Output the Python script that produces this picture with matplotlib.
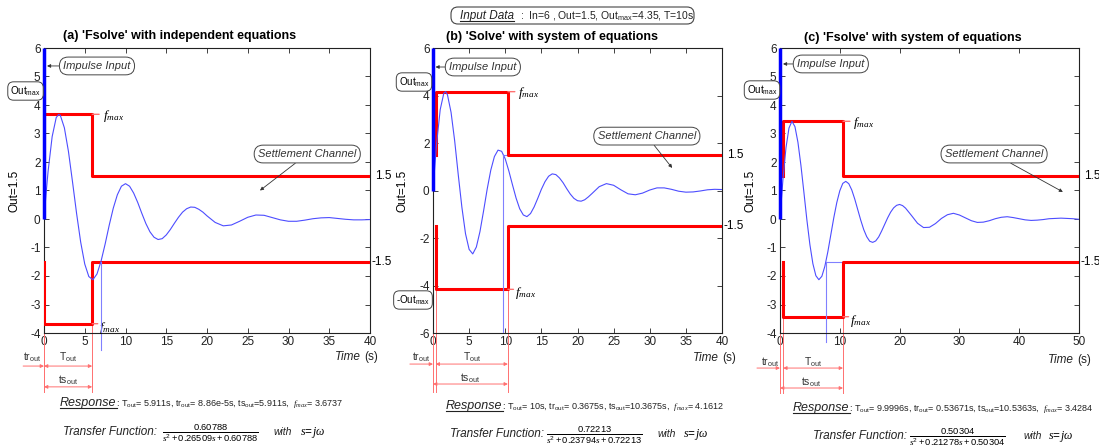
import matplotlib
matplotlib.use("Agg")
import matplotlib.pyplot as plt
import matplotlib.transforms as mtrans
from matplotlib.patches import FancyBboxPatch
from matplotlib.lines import Line2D
import numpy as np

plt.rcParams['font.family'] = ['Liberation Sans', 'DejaVu Sans']
plt.rcParams['mathtext.fontset'] = 'custom'
plt.rcParams['mathtext.rm'] = 'Liberation Sans'
plt.rcParams['mathtext.it'] = 'Liberation Serif:italic'
plt.rcParams['mathtext.bf'] = 'Liberation Sans:bold'
plt.rcParams['axes.unicode_minus'] = False

# ---------------- data ----------------
input_in = 6
input_out = 1.5
input_outmax = 4.35
input_T = 10

titles = ["(a) 'Fsolve' with independent equations",
          "(b) 'Solve' with system of equations",
          "(c) 'Fsolve' with system of equations"]
T_out = [5.911, 10, 9.9996]
tr_out = [8.86e-5, 0.3675, 0.53671]
ts_out = [5.911, 10.3675, 10.5363]
f_max = [3.6737, 4.1612, 3.4284]
tf_num = [0.60788, 0.72213, 0.50304]
tf_b1 = [0.26509, 0.23794, 0.21278]
settle_t = [6.95, 9.73, 7.7]
settle_sign = [-1, 1, -1]
t_end = [40, 40, 50]
y_low = [-4, -6, -4]
y_high = [6, 6, 6]
x_step = [5, 5, 10]
y_step = [1, 2, 1]

t_a = [0, 0.25, 0.5, 1.0, 1.5, 1.8, 2.0, 2.5, 3.0, 3.5, 4.0, 4.5, 5.0, 5.5, 6.0, 6.5, 7.0,
       7.5, 8.0, 8.5, 9.0, 9.5, 10.0, 10.5, 11.0, 11.5, 12.0, 12.5, 13.0, 13.5, 14.0, 14.5,
       15.0, 15.5, 16.0, 16.5, 17.0, 17.5, 18.0, 18.5, 19.0, 19.5, 20.0, 21, 22, 23, 24, 25,
       26, 27, 28, 29, 30, 31, 32, 33, 34, 35, 36, 37, 38, 39, 40]
y_a = [0, 0.88, 1.67, 2.89, 3.56, 3.67, 3.64, 3.20, 2.37, 1.30, 0.19, -0.81, -1.58, -2.02,
       -2.13, -1.93, -1.48, -0.88, -0.22, 0.38, 0.85, 1.15, 1.24, 1.15, 0.91, 0.58, 0.20,
       -0.16, -0.45, -0.64, -0.72, -0.69, -0.56, -0.37, -0.15, 0.06, 0.24, 0.36, 0.42, 0.41,
       0.34, 0.24, 0.11, -0.12, -0.24, -0.21, -0.08, 0.06, 0.14, 0.13, 0.05, -0.03, -0.08,
       -0.08, -0.04, 0.01, 0.04, 0.05, 0.02, -0.01, -0.03, -0.03, -0.02]

t_b = [0, 0.25, 0.5, 1.0, 1.5, 1.75, 2.0, 2.5, 3.0, 3.5, 4.0, 4.5, 5.0, 5.5, 6.0, 6.5, 7.0,
       7.5, 8.0, 8.5, 9.0, 9.5, 10.0, 10.5, 11.0, 11.5, 12.0, 12.5, 13.0, 13.5, 14.0, 14.5,
       15.0, 15.5, 16.0, 16.5, 17.0, 17.5, 18.0, 18.5, 19.0, 19.5, 20.0, 20.5, 21.0, 21.5,
       22.0, 23, 24, 25, 26, 27, 28, 29, 30, 31, 32, 33, 34, 35, 36, 37, 38, 39, 40]
y_b = [0, 1.04, 1.98, 3.41, 4.10, 4.16, 4.03, 3.29, 2.09, 0.65, -0.71, -1.82, -2.48, -2.67,
       -2.38, -1.73, -0.86, 0.06, 0.86, 1.43, 1.70, 1.65, 1.33, 0.82, 0.24, -0.32, -0.77,
       -1.03, -1.10, -0.97, -0.69, -0.33, 0.05, 0.37, 0.60, 0.70, 0.67, 0.53, 0.33, 0.08,
       -0.15, -0.33, -0.43, -0.45, -0.39, -0.27, -0.13, 0.16, 0.29, 0.22, 0.03, -0.14, -0.18,
       -0.11, 0.02, 0.11, 0.11, 0.05, -0.03, -0.07, -0.06, -0.02, 0.03, 0.05, 0.04]

t_c = [0, 0.25, 0.5, 1.0, 1.5, 2.0, 2.5, 3.0, 3.5, 4.0, 4.5, 5.0, 5.5, 6.0, 6.5, 7.0, 7.5,
       8.0, 8.5, 9.0, 9.5, 10.0, 10.5, 11.0, 11.5, 12.0, 12.5, 13.0, 13.5, 14.0, 14.5, 15.0,
       15.5, 16.0, 16.5, 17.0, 17.5, 18.0, 18.5, 19.0, 19.5, 20.0, 20.5, 21.0, 22, 23, 24,
       25, 26, 27, 28, 29, 30, 31, 32, 33, 34, 35, 36, 37, 38, 39, 40, 41, 42, 43, 44, 45,
       46, 47, 48, 49, 50]
y_c = [0, 0.73, 1.40, 2.50, 3.19, 3.43, 3.24, 2.69, 1.88, 0.93, -0.04, -0.90, -1.57, -1.99,
       -2.13, -2.01, -1.66, -1.15, -0.55, 0.05, 0.58, 0.99, 1.25, 1.32, 1.24, 1.02, 0.70,
       0.33, -0.04, -0.37, -0.62, -0.78, -0.82, -0.77, -0.63, -0.42, -0.19, 0.04, 0.24, 0.39,
       0.48, 0.51, 0.47, 0.38, 0.12, -0.15, -0.30, -0.29, -0.16, 0.02, 0.15, 0.20, 0.14, 0.04,
       -0.06, -0.12, -0.11, -0.06, 0.01, 0.06, 0.08, 0.05, 0.01, -0.03, -0.05, -0.04, -0.02,
       0.01, 0.02, 0.03, 0.02, 0.01, -0.01]

series = [(t_a, y_a), (t_b, y_b), (t_c, y_c)]

# ---------------- layout (pixels) ----------------
W, H = 1099, 448
ax_px = [(44, 48, 370, 333), (433, 48, 722, 333), (780, 48, 1079, 333)]
title_px = [(180, 36), (552, 37), (913, 38)]
ylabel_px_x = [21, 409, 757]
time_px = [(335, 357), (693, 358), (1048, 360)]
resp_px = [(60, 406), (446, 409), (793, 411)]
resp_detail_x = [116, 502, 849]
tf_px = [(63, 432), (450, 434), (813, 436)]
frac_cx = [210, 594, 957]
with_px = [273, 657, 1023]
sjw_px = [300, 683, 1048]
outmax_px = [[(25.5, 91, '')], [(414, 82, ''), (413, 300, '-')], [(762, 90, '')]]
impulse_box = [(6.5, 5.37, 0.37), (6.9, 5.2, 0.35), (8.5, 5.44, 0.5)]
settle_box = [((32.3, 2.28), (26.5, 1.0)), ((29.6, 2.29), (33.1, 0.95)),
              ((35.8, 2.28), (47.3, 0.95))]
dim_y = [(-0.084, -0.116, -0.165, -0.189), (-0.084, -0.109, -0.158, -0.179),
         (-0.102, -0.123, -0.172, -0.193)]
tr_label_x = [-0.037, -0.042, -0.033]
tr_arrow_x0 = [-0.064, -0.080, -0.077]
drop_bottom = [-0.207, -0.207, -0.21]
blue_drop = [-0.06, 0.0, -0.03]

RED = '#ff0000'
PINK = '#ff7070'
BLUE = '#4d4dff'

fig = plt.figure(figsize=(W / 100, H / 100), dpi=100)
ID = mtrans.IdentityTransform()


def ftext(x, y, s, **kw):
    return fig.text(x / W, 1 - y / H, s, **kw)


def gfmt(v):
    return f"{v:g}".replace('e-0', 'e-')


box_kw = dict(boxstyle='round,pad=0.35,rounding_size=0.8', fc='white', ec='#444444', lw=0.7)
resp_texts = []

for i in range(3):
    l, tp, r, b = ax_px[i]
    ax = fig.add_axes([l / W, 1 - b / H, (r - l) / W, (b - tp) / H])
    t, y = series[i]
    tr, ts, fm = tr_out[i], ts_out[i], f_max[i]
    te = t_end[i]
    xtr = ax.get_xaxis_transform()
    ytr = ax.get_yaxis_transform()

    ax.set_xlim(0, te)
    ax.set_ylim(y_low[i], y_high[i])
    ax.set_xticks(np.arange(0, te + 0.1, x_step[i]))
    ax.set_yticks(np.arange(y_low[i], y_high[i] + 0.1, y_step[i]))
    ax.tick_params(direction='in', top=True, right=True, length=3.5, width=0.6,
                   labelsize=8.5, pad=2.5, colors='#222222')
    for sp in ax.spines.values():
        sp.set_linewidth(0.8)
        sp.set_color('#222222')

    # settlement channel
    ax.plot([tr, tr, ts, ts, te], [input_out, fm, fm, input_out, input_out],
            color=RED, lw=2.2, zorder=3)
    ax.plot([tr, tr, ts, ts, te], [-input_out, -fm, -fm, -input_out, -input_out],
            color=RED, lw=2.2, zorder=3)

    # response
    ax.plot(t, y, color=BLUE, lw=0.8, zorder=4)

    # settle marker
    lev = settle_sign[i] * input_out
    ax.plot([settle_t[i], settle_t[i]], [lev, y_low[i]], color='#8080ff', lw=0.8, zorder=4)
    ax.plot([settle_t[i], ts], [lev, lev], color='#8080ff', lw=0.8, zorder=2)
    if blue_drop[i] < 0:
        ax.plot([settle_t[i], settle_t[i]], [0, blue_drop[i]], color='#8080ff', lw=0.8,
                transform=xtr, clip_on=False)

    # impulse input
    ax.plot([0, 0], [0, input_in], color='#0000ff', lw=2.5, zorder=5,
            solid_capstyle='butt', clip_on=False)

    # f_max labels
    ax.annotate('', xy=(ts, fm), xytext=(5, 0), textcoords='offset points',
                arrowprops=dict(arrowstyle='-', color=PINK, lw=1.0, shrinkA=0, shrinkB=0))
    ax.annotate(r'$f_{max}$', xy=(ts, fm), xytext=(7.5, -1), textcoords='offset points',
                ha='left', va='center', fontsize=9.5, annotation_clip=False)
    ax.annotate('', xy=(ts, -fm), xytext=(4, 0), textcoords='offset points',
                arrowprops=dict(arrowstyle='-', color=PINK, lw=1.0, shrinkA=0, shrinkB=0))
    ax.annotate(r'$f_{max}$', xy=(ts, -fm), xytext=(5, -3), textcoords='offset points',
                ha='left', va='center', fontsize=9.5, annotation_clip=False)

    # right-side labels
    ax.text(1.017, input_out, gfmt(input_out), transform=ytr, ha='left', va='center',
            fontsize=8.5)
    ax.text(1.005, -input_out, gfmt(-input_out), transform=ytr, ha='left', va='center',
            fontsize=8.5)

    # annotation boxes
    bx, by, bt = impulse_box[i]
    ax.annotate('Impulse Input', xy=(bt, by), xytext=(bx, by), ha='center', va='center',
                fontsize=8, fontstyle='italic', color='#333333', bbox=box_kw,
                arrowprops=dict(arrowstyle='-|>', color='#333333', lw=0.6,
                                mutation_scale=5, shrinkA=0, shrinkB=0), zorder=6)
    (sx, sy), (ax_, ay_) = settle_box[i]
    ax.annotate('Settlement Channel', xy=(ax_, ay_), xytext=(sx, sy), ha='center',
                va='center', fontsize=8, fontstyle='italic', color='#333333', bbox=box_kw,
                arrowprops=dict(arrowstyle='-|>', color='#333333', lw=0.6,
                                mutation_scale=5, shrinkA=0, shrinkB=0), zorder=6)

    # y label
    ax.set_ylabel(f"Out={gfmt(input_out)}", fontsize=8.5)
    ax.yaxis.set_label_coords(-(l - ylabel_px_x[i]) / (r - l), 0.5)

    # dimension lines below the axes
    yTl, yTa, ysl, ysa = dim_y[i]
    db = drop_bottom[i]
    for xv in (tr, ts):
        ax.plot([xv, xv], [-fm, y_low[i]], color=PINK, lw=0.7, zorder=2)
        ax.plot([xv, xv], [0, db], color=PINK, lw=0.7, transform=xtr, clip_on=False)
    ax.plot([0, 0], [0, db], color=PINK, lw=0.7, transform=xtr, clip_on=False)
    arr = dict(color=PINK, lw=0.7, mutation_scale=5, shrinkA=0, shrinkB=0)
    ax.annotate('', xy=(ts, yTa), xytext=(tr, yTa), xycoords=xtr, textcoords=xtr,
                arrowprops=dict(arrowstyle='<|-|>', **arr), annotation_clip=False)
    ax.annotate('', xy=(ts, ysa), xytext=(0, ysa), xycoords=xtr, textcoords=xtr,
                arrowprops=dict(arrowstyle='<|-|>', **arr), annotation_clip=False)
    ax.annotate('', xy=(0, yTa), xytext=(tr_arrow_x0[i], yTa), xycoords=xtr,
                textcoords='axes fraction',
                arrowprops=dict(arrowstyle='-|>', **arr), annotation_clip=False)
    ax.text((tr + ts) / 2, yTl, r'T$_{\rm out}$', transform=xtr, ha='center', va='center',
            fontsize=7.5, color='#333333')
    ax.text(ts / 2, ysl, r'ts$_{\rm out}$', transform=xtr, ha='center', va='center',
            fontsize=7.5, color='#333333')
    ax.text(tr_label_x[i], yTl, r'tr$_{\rm out}$', transform=ax.transAxes, ha='center',
            va='center', fontsize=7.5, color='#333333')

    # title
    ftext(*title_px[i], titles[i], ha='center', va='center', fontsize=9, fontweight='bold')

    # Time (s)
    tx, ty = time_px[i]
    ftext(tx, ty, 'Time', ha='left', va='center', fontsize=8.5, fontstyle='italic',
          color='#222222')
    ftext(tx + 29, ty, '(s)', ha='left', va='center', fontsize=8.5, color='#222222')

    # Out_max boxes
    for (ox, oy, pre) in outmax_px[i]:
        ftext(ox, oy, pre + r'Out$_{\rm max}$', ha='center', va='center', fontsize=7,
              bbox=dict(boxstyle='round,pad=0.25,rounding_size=0.6', fc='white',
                        ec='#444444', lw=0.7))

    # Response line
    rx, ry = resp_px[i]
    rt = ftext(rx, ry, 'Response', ha='left', va='baseline', fontsize=9,
               fontstyle='italic', color='#222222')
    resp_texts.append((rt, ry))
    det = (r": T$_{\rm out}$= " + gfmt(T_out[i]) + "s, tr$_{\\rm out}$= " + gfmt(tr_out[i])
           + "s, ts$_{\\rm out}$=" + gfmt(ts_out[i]) + "s,  $f_{max}$= " + gfmt(f_max[i]))
    ftext(resp_detail_x[i], ry, det, ha='left', va='baseline', fontsize=6.5, color='#222222')

    # Transfer function
    fx_, fy_ = tf_px[i]
    ftext(fx_, fy_, 'Transfer Function:', ha='left', va='center', fontsize=8.5,
          fontstyle='italic', color='#222222')
    frac = (r"$\frac{" + gfmt(tf_num[i]) + "}{s^2+" + gfmt(tf_b1[i]) + "s+"
            + gfmt(tf_num[i]) + "}$")
    ftext(frac_cx[i], fy_ + 1, frac, ha='center', va='center', fontsize=9.5)
    ftext(with_px[i], fy_, 'with', ha='left', va='center', fontsize=7.5,
          fontstyle='italic', color='#222222')
    ftext(sjw_px[i], fy_, r'$s\!=\!j\omega$', ha='left', va='center', fontsize=8.5)

# Input data box
fig.add_artist(FancyBboxPatch((451, H - 24), 243, 17, boxstyle='round,pad=0,rounding_size=7',
                              fc='white', ec='#444444', lw=0.8, transform=ID))
it = ftext(460, 19, 'Input Data', ha='left', va='baseline', fontsize=8.5,
           fontstyle='italic', color='#222222')
ftext(520, 19, (f":  In={gfmt(input_in)} , Out={gfmt(input_out)}, Out$_{{\\rm max}}$="
                f"{gfmt(input_outmax)}, T={gfmt(input_T)}s"),
      ha='left', va='baseline', fontsize=7.5, color='#222222')

# underlines
fig.canvas.draw()
ren = fig.canvas.get_renderer()
for (txt, base) in resp_texts + [(it, 19)]:
    bb = txt.get_window_extent(ren)
    yy = H - (base + 2)
    fig.add_artist(Line2D([bb.x0, bb.x1], [yy, yy], color='#222222', lw=0.8, transform=ID))

fig.savefig('out.png', dpi=100)
